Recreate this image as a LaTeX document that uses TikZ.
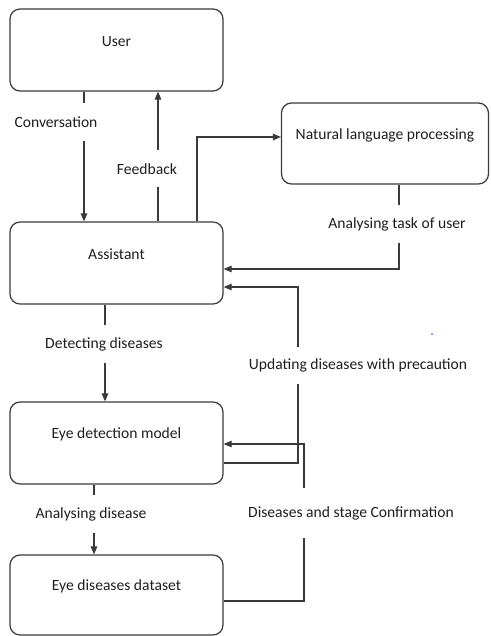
\documentclass[tikz,border=0pt]{standalone}
\usepackage{fontspec}
\setmainfont{Carlito}
\usetikzlibrary{arrows.meta}
\definecolor{ln}{HTML}{3A3A3A}
\definecolor{tx}{HTML}{1E1E1E}
\begin{document}
\begin{tikzpicture}[x=1pt,y=-1pt,
  box/.style={draw=ln,line width=1.2pt,rounded corners=10pt,minimum width=213pt,minimum height=82pt,inner sep=0pt},
  boxtxt/.style={text=tx,font=\fontsize{15.6}{18}\selectfont,yshift=8.5pt},
  arr/.style={draw=ln,line width=1.1pt,-{Triangle[length=8pt,width=6.5pt]}},
  lab/.style={fill=white,text=tx,font=\fontsize{15.6}{18}\selectfont,inner xsep=1pt,inner ysep=0pt,minimum height=38pt}]
\useasboundingbox (0,0) rectangle (490,636);
% boxes
\node[box,label={[boxtxt]center:User}] (user) at (116.5,50) {};
\node[box,label={[boxtxt]center:Assistant}] (assistant) at (116.5,263) {};
\node[box,label={[boxtxt]center:Eye detection model}] (eye) at (116.5,443) {};
\node[box,minimum height=80pt,label={[boxtxt]center:Eye diseases dataset}] (data) at (116.5,595) {};
\node[box,minimum width=207pt,minimum height=81pt,label={[boxtxt]center:Natural language processing}] (nlp) at (385,143.5) {};
% connectors
\draw[arr] (user.south -| 84,0) -- (assistant.north -| 84,0);
\draw[arr] (assistant.north -| 158,0) -- (user.south -| 158,0);
\draw[arr] (assistant.north -| 197,0) |- (nlp.west |- 0,137);
\draw[arr] (nlp.south -| 399,0) |- (assistant.east |- 0,269);
\draw[arr] (eye.east |- 0,463) -- (298,463) -- (298,287) -- (assistant.east |- 0,287);
\draw[arr] (data.east |- 0,601) -- (304,601) -- (304,444) -- (eye.east |- 0,444);
\draw[arr] (assistant.south -| 105,0) -- (eye.north -| 105,0);
\draw[arr] (eye.south -| 94,0) -- (data.north -| 94,0);
% labels
\node[lab] (lconv) at (56,122) {Conversation};
\node[lab,minimum height=37pt] (lfeed) at (147,169) {Feedback};
\node[lab] (ltask) at (397,224) {Analysing task of user};
\node[lab] (ldet) at (104,344) {Detecting diseases};
\node[lab,minimum height=37pt] (lupd) at (358,365) {Updating diseases with precaution};
\node[lab,minimum height=50pt] (ldis) at (351,513) {Diseases and stage Confirmation};
\node[lab] (lana) at (91,514) {Analysing disease};
% stray dot
\fill[blue!80] (432,334) circle (0.9pt);
\end{tikzpicture}
\end{document}
